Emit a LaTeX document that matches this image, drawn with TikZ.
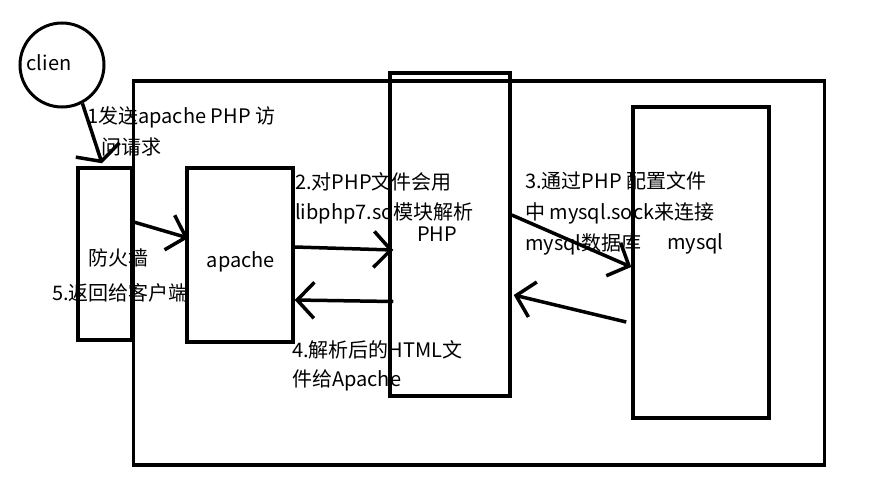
\documentclass[tikz,border=0pt]{standalone}
\usepackage{fontspec}
\setmainfont{Noto Sans CJK SC}
\usetikzlibrary{arrows.meta, positioning}

\begin{document}
\begin{tikzpicture}[x=1pt, y=-1pt]
  \tikzset{
    box/.style={
      draw,
      line width=3.5pt,
      anchor=center
    },
    flow/.style={
      line width=3.5pt,
      -{Straight Barb[length=17pt,width=36pt,line width=3.5pt]}
    },
    note/.style={
      font=\fontsize{20}{24}\selectfont,
      anchor=west,
      inner sep=0pt
    }
  }
  \useasboundingbox (0,0) rectangle (894,498);

  % Draw the boxes
  \node[box, minimum width=691pt, minimum height=384pt] at (479,273) (server) {};
  \node[box, circle, line width=3pt, minimum size=84pt] at (62,65) (clien) {};
  \node[box, minimum width=54pt, minimum height=172pt] at (105,254) (fw) {};
  \node[box, minimum width=106pt, minimum height=174pt] at (240,255) (apache) {};
  \node[box, minimum width=120pt, minimum height=323pt] at (450,234.5) (php) {};
  \node[box, minimum width=136pt, minimum height=311pt] at (701,262.5) (mysql) {};

  % Names in the boxes
  \node[note, anchor=center] at (49,63) {clien};
  \node[note] at (88,258) {防火墙};
  \node[note, anchor=center] at (241,262) {apache};
  \node[note, anchor=center] at (437,234) {PHP};
  \node[note] at (667,244) {mysql};

  % Draw the arrows
  \draw[flow, -{Straight Barb[length=12pt,width=46pt,line width=3.5pt]}]
    (clien.-62) -- ([xshift=-3pt,yshift=3pt]fw.north);
  \draw[flow] ([yshift=32pt]fw.east) -- ([xshift=3pt,yshift=17pt]apache.west);
  \draw[flow] ([yshift=8pt]apache.east) -- ([xshift=5pt,yshift=-15.5pt]php.west);
  \draw[flow] ([xshift=5pt,yshift=-67pt]php.west) -- ([yshift=-45pt]apache.east);
  \draw[flow] ([yshift=19.5pt]php.east) -- ([yshift=-4.5pt]mysql.west);
  \draw[flow] ([xshift=-5pt,yshift=-59.5pt]mysql.west) -- ([xshift=2pt,yshift=-60.5pt]php.east);

  % Step texts
  \node[note] at (87,117) {1发送apache PHP 访};
  \node[note] at (101,147) {问请求};
  \node[note] at (295,182) {2.对PHP文件会用};
  \node[note] at (295,213) {libphp7.so模块解析};
  \node[note] at (525,181) {3.通过PHP 配置文件};
  \node[note] at (525,213) {中 mysql.sock来连接};
  \node[note] at (525,244) {mysql数据库};
  \node[note] at (292,350) {4.解析后的HTML文};
  \node[note] at (292,380) {件给Apache};
  \node[note] at (52,293) {5.返回给客户端};

\end{tikzpicture}
\end{document}
